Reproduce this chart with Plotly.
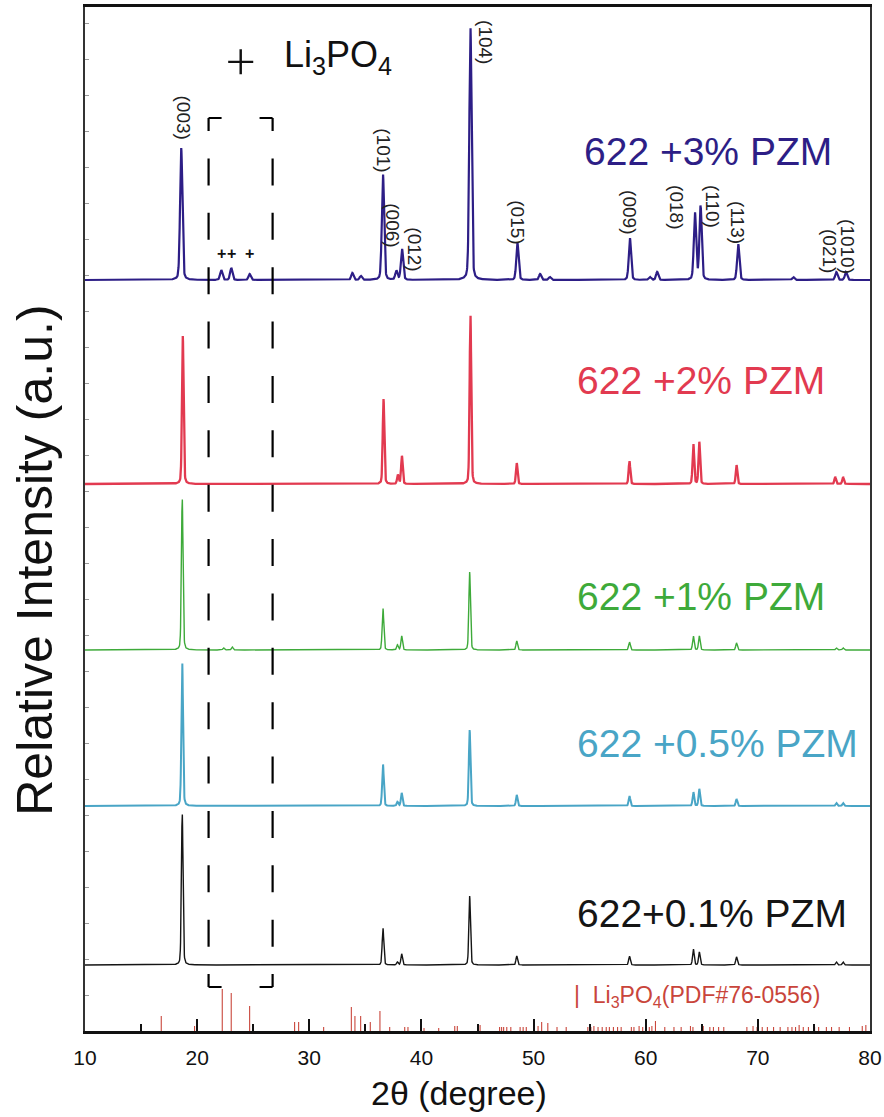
import numpy as np
import plotly.graph_objects as go

# ---------------- data ----------------
# vertical unit: 1 unit ~ 1 px of the original figure; each pattern is offset by its baseline
series_names = ["622 +3% PZM", "622 +2% PZM", "622 +1% PZM", "622 +0.5% PZM", "622+0.1% PZM"]
series_baselines = [751, 547, 381, 225, 66]

pk_3 = [18.58, 22.15, 23.04, 24.68, 33.84, 34.60, 36.57, 37.77, 38.27, 44.37, 48.56, 50.58, 51.45,
        58.59, 60.37, 61.02, 64.39, 64.89, 68.25, 73.16, 77.00, 77.86]
h_3 = [132, 10, 12, 6, 7, 4, 106, 9, 31, 253, 37, 6, 3, 42, 3, 8, 67, 74, 36, 3, 8, 8]

pk_2 = [18.72, 36.62, 37.90, 38.26, 44.37, 48.50, 58.55, 64.25, 64.78, 68.10, 76.90, 77.60]
h_2 = [148, 85, 9, 28, 170, 21, 23, 40, 42, 19, 7, 7]

pk_1 = [18.67, 22.36, 23.13, 36.57, 37.86, 38.24, 44.30, 48.50, 58.55, 64.25, 64.78, 68.10, 77.00, 77.60]
h_1 = [152, 2, 3, 42, 5, 14, 78, 9, 8, 14, 14, 7, 2, 2]

pk_05 = [18.67, 36.57, 37.86, 38.24, 44.30, 48.50, 58.55, 64.25, 64.78, 68.10, 77.00, 77.60]
h_05 = [144, 42, 4, 13, 76, 11, 10, 14, 17, 7, 3, 3]

pk_01 = [18.67, 36.57, 37.86, 38.24, 44.30, 48.50, 58.55, 64.25, 64.78, 68.10, 77.00, 77.60]
h_01 = [152, 37, 3, 11, 69, 9, 9, 16, 13, 8, 3, 3]

series_peaks = [pk_3, pk_2, pk_1, pk_05, pk_01]
series_heights = [h_3, h_2, h_1, h_05, h_01]

# Li3PO4 reference pattern (PDF#76-0556) stick positions and heights
ref_pos = [16.80, 19.77, 22.24, 23.04, 24.68, 28.69, 29.05, 31.28, 33.75, 34.07, 34.58, 35.44, 36.30,
           37.17, 38.51, 38.80, 40.23, 41.54, 42.97, 43.20, 45.23, 46.97, 47.15, 47.33, 47.61, 47.97,
           48.80, 49.07, 49.35, 50.40, 50.72, 51.27, 52.09, 52.91, 54.84, 55.11, 55.38, 55.75, 56.12,
           56.48, 56.76, 57.12, 57.49, 57.81, 58.72, 58.95, 59.41, 59.73, 60.32, 60.55, 60.87, 61.70,
           62.52, 63.16, 63.99, 64.21, 65.13, 65.72, 66.04, 66.50, 66.96, 69.02, 69.57, 69.93, 70.39,
           70.85, 71.40, 71.99, 72.68, 73.04, 73.36, 73.68, 74.05, 74.51, 75.06, 75.42, 76.11, 76.57,
           77.25, 78.17, 79.31, 79.63]
ref_h = [15, 5, 42, 38, 25, 9, 9, 4, 24, 15, 15, 9, 20,
         4, 4, 4, 3, 3, 5, 5, 6, 4, 4, 4, 4, 4,
         4, 4, 4, 5, 9, 8, 4, 4, 4, 4, 5, 4, 4,
         4, 4, 4, 4, 4, 4, 4, 5, 4, 4, 5, 10, 4,
         4, 4, 5, 4, 5, 4, 4, 4, 4, 4, 5, 4, 4,
         4, 4, 4, 4, 4, 4, 6, 4, 4, 4, 4, 4, 4,
         4, 4, 5, 6]

# Miller index labels for the top pattern: text, 2θ, height of label centre
hkl_text = ["(003)", "(101)", "(006)", "(012)", "(104)", "(015)", "(009)", "(018)", "(110)", "(113)", "(021)", "(1010)"]
hkl_x = [18.87, 36.64, 37.44, 39.40, 45.75, 48.59, 58.59, 62.78, 66.00, 68.22, 76.43, 78.03]
hkl_y = [913, 881, 806, 782, 989, 809, 819, 824, 825, 808, 780, 784]

# Li3PO4 impurity marks
plus_x = [22.15, 23.04, 24.68]
plus_y = [778, 778, 778]

# ---------------- styles ----------------
colors = ["#2D1E86", "#E23A50", "#3EAA3A", "#49A5C6", "#151515"]
widths = [2.2, 2.3, 1.4, 2.0, 1.4]
fwhm = [0.24, 0.17, 0.17, 0.17, 0.17]
FONT = "Liberation Sans, Arial, sans-serif"

two_theta = np.arange(10.0, 80.0001, 0.02)


def profile(x, peaks, heights, w, base):
    y = np.full_like(x, float(base))
    for p, h in zip(peaks, heights):
        d = (x - p) / w
        g = np.exp(-4 * np.log(2) * d ** 2)
        l = 1.0 / (1.0 + 4 * d ** 2)
        y += h * (0.75 * g + 0.25 * l)
    return y


fig = go.Figure()

for name, pk, hh, base, c, lw, fw in zip(series_names, series_peaks, series_heights,
                                          series_baselines, colors, widths, fwhm):
    fig.add_trace(go.Scatter(x=two_theta, y=profile(two_theta, pk, hh, fw, base), mode="lines",
                             line=dict(color=c, width=lw), name=name, showlegend=False))

# reference sticks
sx, sy = [], []
for p, h in zip(ref_pos, ref_h):
    sx += [p, p, None]
    sy += [0, h, None]
fig.add_trace(go.Scatter(x=sx, y=sy, mode="lines", line=dict(color="#C9473C", width=1.1),
                         name="Li3PO4(PDF#76-0556)", showlegend=False))

# ---------------- dashed box ----------------
box_x0, box_x1 = 21.02, 26.73
box_y0, box_y1 = 44, 913
vlen = box_y1 - box_y0
stub, dash = 13, 27
n = 15
gap = (vlen - 2 * stub - n * dash) / (n + 1)
pattern = [stub] + sum([[gap, dash] for _ in range(n)], []) + [gap, stub]
vdash = ",".join(f"{v:.2f}px" for v in pattern)
hw = (box_x1 - box_x0) * 11.207
hdash = f"{stub}px,{hw - 2 * stub:.2f}px,{stub}px"
for xx in (box_x0, box_x1):
    fig.add_shape(type="line", x0=xx, x1=xx, y0=box_y1, y1=box_y0, xref="x", yref="y",
                  line=dict(color="black", width=2.2, dash=vdash), layer="above")
for yy in (box_y0, box_y1):
    fig.add_shape(type="line", x0=box_x0, x1=box_x1, y0=yy, y1=yy, xref="x", yref="y",
                  line=dict(color="black", width=2.2, dash=hdash), layer="above")

# ---------------- annotations ----------------
ann = []
for t, xx, yy in zip(hkl_text, hkl_x, hkl_y):
    ann.append(dict(x=xx, y=yy, text=t, textangle=90, showarrow=False,
                    font=dict(family=FONT, size=19, color="#222222")))
for xx, yy in zip(plus_x, plus_y):
    ann.append(dict(x=xx, y=yy, text="<b>+</b>", showarrow=False,
                    font=dict(family=FONT, size=16, color="#111111")))

label_x = [54.3, 53.7, 53.7, 53.7, 53.7]
label_y = [880, 651, 435, 288, 118]
for name, c, xx, yy in zip(series_names, colors, label_x, label_y):
    ann.append(dict(x=xx, y=yy, text=name, xanchor="left", showarrow=False,
                    font=dict(family=FONT, size=39, color=c)))

ann.append(dict(x=23.88, y=974, text="+", showarrow=False,
                font=dict(family="Inter, Liberation Sans", size=58, weight=200, color="#111111")))
ann.append(dict(x=27.6, y=974, text="Li<sub>3</sub>PO<sub>4</sub>", xanchor="left", showarrow=False,
                font=dict(family=FONT, size=36, color="#111111")))
ann.append(dict(x=53.4, y=35, text="|  Li<sub>3</sub>PO<sub>4</sub>(PDF#76-0556)", xanchor="left",
                showarrow=False, font=dict(family=FONT, size=23, color="#C9453B")))
# axis titles
ann.append(dict(x=-0.064, xref="paper", xanchor="center", y=471, yref="y", yanchor="middle",
                text="Relative Intensity (a.u.)", textangle=-90,
                showarrow=False, font=dict(family=FONT, size=50, color="#111111")))
ann.append(dict(x=0.476, xref="paper", xanchor="center", y=1093, yref="paper", yanchor="middle",
                text="2θ (degree)", showarrow=False,
                font=dict(family=FONT, size=34, color="#111111")))
# convert the x-title pixel row into paper coords
ann[-1]["y"] = (1030.7 - 1093) / 1024

fig.update_layout(
    width=884, height=1117,
    margin=dict(l=85, r=14, t=7, b=86),
    paper_bgcolor="white", plot_bgcolor="white",
    font=dict(family=FONT, color="#111111"),
    annotations=ann,
    showlegend=False,
)
fig.update_xaxes(range=[10, 80], dtick=10, tick0=10, ticks="inside", ticklen=12, tickwidth=2,
                 tickcolor="#111111", showline=True, linecolor="#111111", linewidth=2.5, mirror=True,
                 showgrid=False, zeroline=False, automargin=False, ticklabelstandoff=6,
                 minor=dict(ticks="inside", ticklen=7, tickwidth=2, dtick=5, tick0=10, tickcolor="#111111"),
                 tickfont=dict(family=FONT, size=21, color="#111111"))
fig.update_yaxes(range=[0, 1024], showline=True, linecolor="#333333", linewidth=2, mirror=True,
                 showgrid=False, zeroline=False, ticks="inside", ticklen=4, tickcolor="#999999",
                 dtick=36, showticklabels=False, automargin=False)

fig.write_html("out.html", config={"displayModeBar": False},
               post_script="document.body.style.margin='0px';")
